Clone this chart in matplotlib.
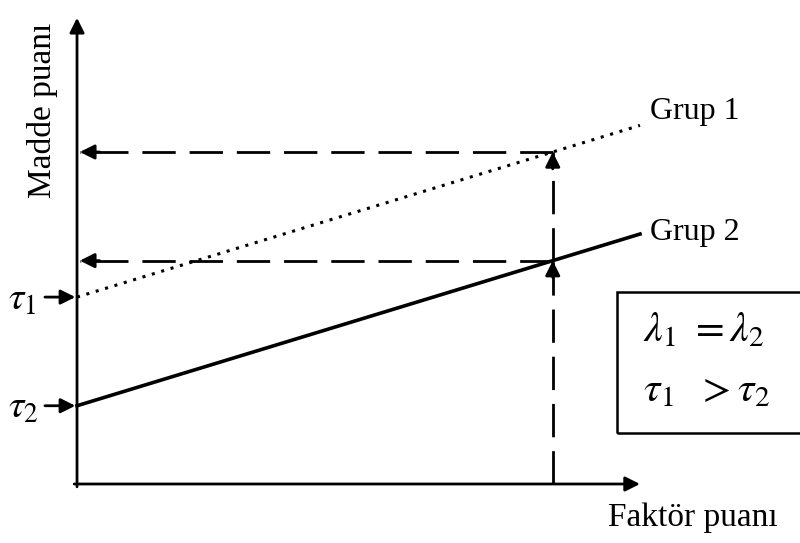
import matplotlib
matplotlib.use("Agg")
import matplotlib.pyplot as plt
from matplotlib.patches import Rectangle

plt.rcParams['font.family'] = ['Liberation Serif', 'DejaVu Serif']
plt.rcParams['mathtext.fontset'] = 'stix'

# model values: same loading (slope), different intercepts
groups = ['Grup 1', 'Grup 2']
intercepts = [3.32, 1.39]      # tau_1, tau_2
loadings = [0.305, 0.305]      # lambda_1 = lambda_2
styles = [':', '-']
x_end = 10.0                   # end of the regression lines
x_factor = 8.45                # chosen factor score
y_top = 8.28                   # top of the item-score axis

fig = plt.figure(figsize=(8.0, 5.43), dpi=100)
ax = fig.add_axes([0, 0, 1, 1])
ax.set_xlim(-1.368, 12.842)
ax.set_ylim(-1.048, 8.597)
ax.axis('off')

head = dict(arrowstyle='-|>', color='black', lw=2, mutation_scale=22, shrinkA=0, shrinkB=0)

# axes with arrowheads
ax.annotate('', xy=(0, y_top), xytext=(0, -0.05), arrowprops=head)
ax.annotate('', xy=(x_end, 0), xytext=(-0.05, 0), arrowprops=head)

# group lines
for name, t, lam, ls in zip(groups, intercepts, loadings, styles):
    xs = [0, x_end]
    ys = [t, t + lam * x_end]
    if ls == ':':
        ax.plot(xs, ys, color='black', lw=2.2, linestyle=(0, (1, 2.2)))
    else:
        ax.plot(xs, ys, color='black', lw=2.6, linestyle='-')

ax.text(10.18, 6.62, groups[0], fontsize=23, ha='left', va='center')
ax.text(10.18, 4.46, groups[1], fontsize=23, ha='left', va='center')

# projections of the chosen factor score
dash = (0, (12, 5))
levels = [t + lam * x_factor for t, lam in zip(intercepts, loadings)]
lo = 0
for lev in sorted(levels):
    ax.plot([x_factor, x_factor], [lo, lev], color='black', lw=2, linestyle=dash)
    ax.annotate('', xy=(x_factor, lev), xytext=(x_factor, lev - 0.3), arrowprops=head)
    lo = lev
for lev in levels:
    ax.plot([x_factor, 0.05], [lev, lev], color='black', lw=2, linestyle=dash)
    ax.annotate('', xy=(0.05, lev), xytext=(0.4, lev), arrowprops=head)

# intercept markers on the item-score axis
for i, t in enumerate(intercepts):
    ax.annotate('', xy=(-0.03, t), xytext=(-0.57, t), arrowprops=head)
    ax.text(-1.22, t - 0.05, r'$\tau_{%d}$' % (i + 1), fontsize=28, ha='left', va='center')

# summary box
ax.add_patch(Rectangle((9.59, 0.906), 4.0, 2.5, fill=False, edgecolor='black', lw=1.8))
ax.text(10.05, 2.72, r'$\lambda_1\ =\lambda_2$', fontsize=30, ha='left', va='center')
ax.text(10.05, 1.65, r'$\tau_1\ \ >\tau_2$', fontsize=30, ha='left', va='center')

# axis titles
ax.text(-0.62, 6.64, 'Madde puanı', fontsize=24, rotation=90, ha='center', va='center')
ax.text(10.94, -0.6, 'Faktör puanı', fontsize=24, ha='center', va='center')

fig.savefig('out.png', dpi=100, facecolor='white')
